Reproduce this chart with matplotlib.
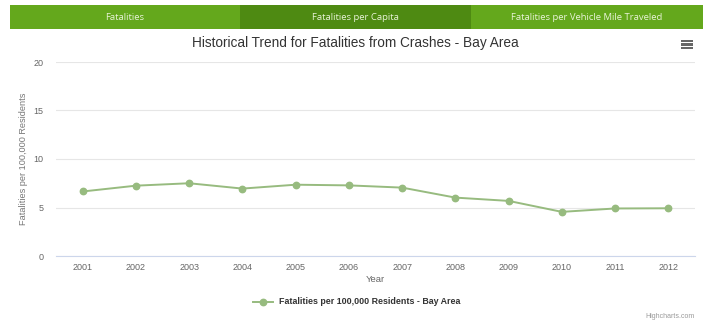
import numpy as np
import matplotlib
matplotlib.use('Agg')
from matplotlib import pyplot as plt
from matplotlib.patches import Rectangle

years = ['2001', '2002', '2003', '2004', '2005', '2006',
         '2007', '2008', '2009', '2010', '2011', '2012']
rate = [6.65, 7.25, 7.5, 6.95, 7.35, 7.28, 7.05, 6.02, 5.68, 4.55, 4.9, 4.92]
tabs = ['Fatalities', 'Fatalities per Capita', 'Fatalities per Vehicle Mile Traveled']
active_tab = 1

W, H = 710, 324


def main():
    fig = plt.figure(figsize=(W / 100, H / 100), dpi=100)
    fig.patch.set_facecolor('white')

    # tab bar across the top
    tab_x = [10, 240, 471, 703]
    for i, name in enumerate(tabs):
        x0, x1 = tab_x[i], tab_x[i + 1]
        col = '#4e8a12' if i == active_tab else '#64a81c'
        fig.patches.append(Rectangle((x0 / W, 1 - 29 / H), (x1 - x0) / W, 24 / H,
                                     transform=fig.transFigure, facecolor=col,
                                     edgecolor='none'))
        fig.text((x0 + x1) / 2 / W, 1 - 17 / H, name, ha='center', va='center',
                 color='#e8f3d8', fontsize=6.8, family='Open Sans')

    fig.text(0.5, 1 - 43 / H, 'Historical Trend for Fatalities from Crashes - Bay Area',
             ha='center', va='center', color='#333333', fontsize=9.8,
             family='Liberation Sans')

    # export menu icon
    for yy in (41, 44.5, 48):
        fig.patches.append(Rectangle((681 / W, 1 - (yy + 1) / H), 12 / W, 2 / H,
                                     transform=fig.transFigure, facecolor='#666666',
                                     edgecolor='none'))

    ax = fig.add_axes([56 / W, 68 / H, 639 / W, 194 / H])
    x = np.arange(len(years))
    ax.plot(x, rate, color='#97bb7f', lw=1.4, marker='o', ms=4.6, zorder=3)

    ax.set_xlim(-0.5, len(years) - 0.5)
    ax.set_ylim(0, 20)
    ax.set_yticks([0, 5, 10, 15, 20])
    ax.set_xticks(x)
    ax.set_xticklabels(years)
    ax.grid(axis='y', color='#e6e6e6', lw=0.8)
    ax.set_axisbelow(True)
    for s in ('top', 'right', 'left'):
        ax.spines[s].set_visible(False)
    ax.spines['bottom'].set_color('#ccd6eb')
    ax.spines['bottom'].set_linewidth(0.8)
    ax.tick_params(axis='x', length=0, labelsize=6.5, labelcolor='#666666', pad=5)
    ax.tick_params(axis='y', length=0, labelsize=6.5, labelcolor='#666666', pad=9)
    for lbl in ax.get_xticklabels() + ax.get_yticklabels():
        lbl.set_family('Liberation Sans')
    ax.set_xlabel('Year', fontsize=6.8, color='#666666', family='Liberation Sans',
                  labelpad=2)
    ax.set_ylabel('Fatalities per 100,000 Residents', fontsize=6.6, color='#777777',
                  family='Liberation Sans', labelpad=4)

    # legend drawn by hand, highcharts style
    ly = 1 - 302 / H
    fig.lines.append(plt.Line2D([253 / W, 273 / W], [ly, ly], transform=fig.transFigure,
                                color='#97bb7f', lw=1.4, zorder=3))
    fig.lines.append(plt.Line2D([263 / W], [ly], transform=fig.transFigure,
                                color='#97bb7f', marker='o', ms=4.6))
    fig.text(279 / W, ly, 'Fatalities per 100,000 Residents - Bay Area', ha='left',
             va='center', fontsize=6.4, fontweight='bold', color='#333333',
             family='Liberation Sans')

    fig.text(695 / W, 1 - 316 / H, 'Highcharts.com', ha='right', va='center',
             fontsize=5, color='#999999', family='Liberation Sans')

    fig.savefig('out.png', dpi=100)


if __name__ == '__main__':
    main()
